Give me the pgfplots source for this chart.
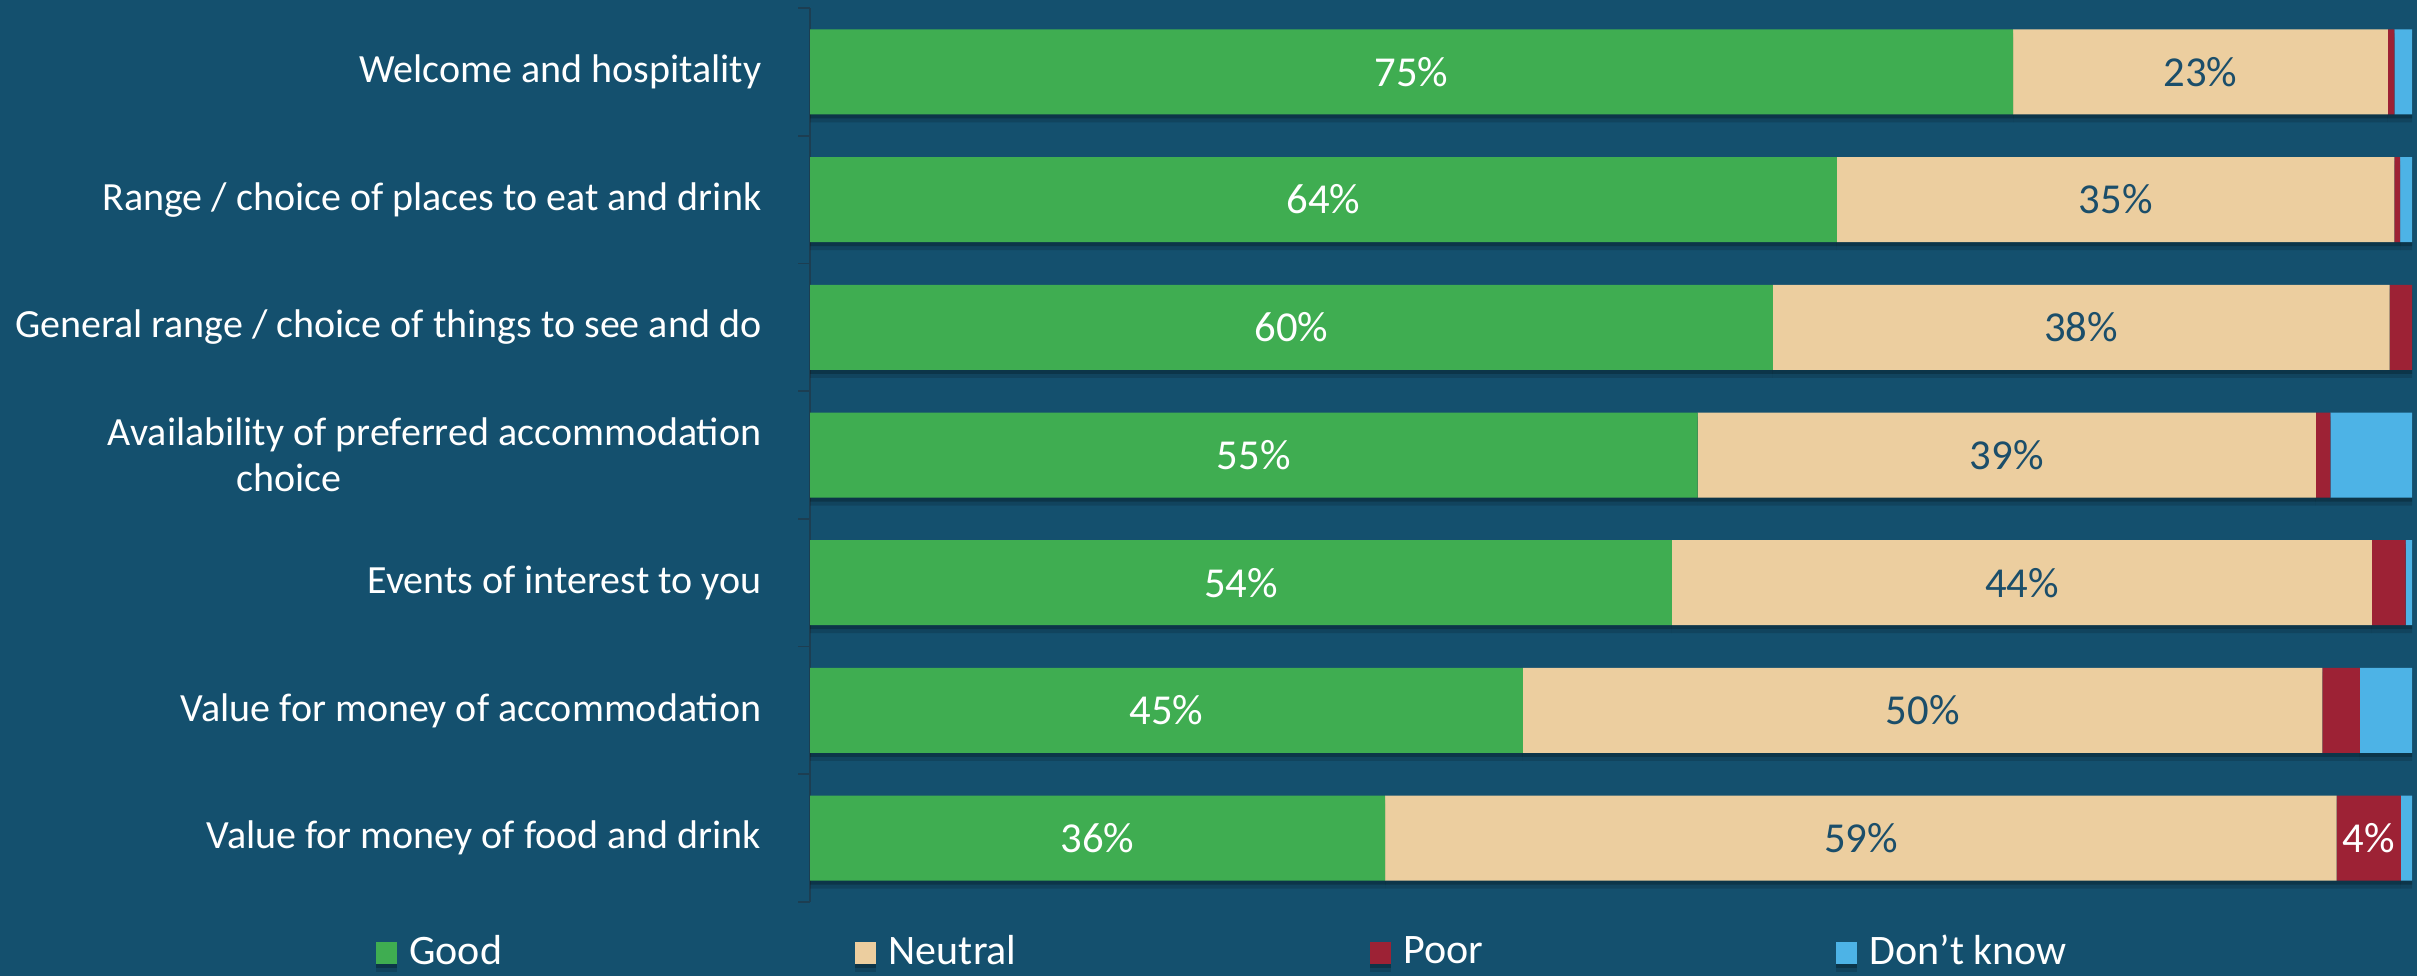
\documentclass[border=0pt]{standalone}
\usepackage{pgfplots}
\pgfplotsset{compat=1.18}
\usepackage{fontspec}
\setmainfont{Carlito}
\definecolor{bg}{HTML}{14506E}
\definecolor{axisc}{HTML}{1C3E52}
\definecolor{cgood}{HTML}{3FAD51}
\definecolor{cneutral}{HTML}{ECCE9F}
\definecolor{cpoor}{HTML}{9D2235}
\definecolor{cdk}{HTML}{4DB3E6}
\definecolor{labc}{HTML}{1B4E6A}
\newcommand{\ff}{\fontsize{12}{13.8}\selectfont}
\newcommand{\fl}{\fontsize{12.8}{14}\selectfont}
\newcommand{\fg}{\fontsize{12.6}{14}\selectfont}
\pgfplotsset{
  sq/.style={legend image code/.code={\fill[##1,draw=none] (0pt,-3.3pt) rectangle (6.3pt,3.3pt);}},
  shad/.style={preaction={fill=black, opacity=0.22, transform canvas={yshift=-1.2pt}},
               preaction={fill=black, opacity=0.14, transform canvas={yshift=-2.4pt}}},
  frame/.style={at={(243pt,22.2pt)}, anchor=south west, scale only axis,
    width=480.6pt, height=268.2pt, xmin=0, xmax=100, ymin=-0.5, ymax=6.5, y dir=reverse},
}
\begin{document}
\begin{tikzpicture}[x=1pt,y=1pt]
\fill[bg] (0,0) rectangle (725.1,292.8);
\begin{axis}[frame,
  xbar stacked, bar width=25.5pt,
  axis x line=none, axis y line*=left,
  axis line style={draw=axisc, line width=0.5pt},
  ytick={0,...,6},
  yticklabels={Welcome and hospitality,
    Range / choice of places to eat and drink,
    General range / choice of things to see and do,
    {Availability of preferred accommodation\\choice\hspace*{126pt}},
    Events of interest to you,
    Value for money of accommodation,
    Value for money of food and drink},
  major tick length=0pt,
  minor ytick={-0.5,0.5,...,6.5},
  minor tick length=3.6pt, tick align=outside,
  every tick/.style={draw=axisc, line width=0.5pt},
  yticklabel style={font=\ff, text=white, align=right, inner sep=0pt, xshift=-14.4pt},
  legend columns=4,
  legend style={at={(axis description cs:0,0)}, anchor=west, xshift=-130.5pt, yshift=-15.2pt,
    draw=none, fill=none, text=white, font=\fg, inner sep=0pt, nodes={inner sep=0pt},
    /tikz/every odd column/.append style={column sep=3.8pt},
    /tikz/every even column/.append style={column sep=105.9pt}},
]
\addplot[fill=cgood, draw=none, sq, shad] coordinates {(75.1,0) (64.1,1) (60.1,2) (55.4,3) (53.8,4) (44.5,5) (35.9,6)};
\addplot[fill=cneutral, draw=none, sq, shad] coordinates {(23.4,0) (34.8,1) (38.5,2) (38.6,3) (43.7,4) (49.9,5) (59.4,6)};
\addplot[fill=cpoor, draw=none, sq, shad] coordinates {(0.4,0) (0.35,1) (1.4,2) (0.9,3) (2.1,4) (2.35,5) (4.0,6)};
\addplot[fill=cdk, draw=none, sq, shad] coordinates {(1.1,0) (0.75,1) (0,2) (5.1,3) (0.4,4) (3.25,5) (0.7,6)};
\legend{Good, Neutral, Poor, Don’t know}
\end{axis}
\begin{axis}[frame, hide axis, clip=false]
\addplot[draw=none, mark=none, point meta=explicit,
  nodes near coords={\pgfmathprintnumber[fixed,precision=0,assume math mode=true]{\pgfplotspointmeta}\%},
  nodes near coords style={anchor=center, text=white, font=\fl}]
  table[x=x, y=y, meta=v] {
x y v
37.55 0 75
32.05 1 64
30.05 2 60
27.7 3 55
26.9 4 54
22.25 5 45
17.95 6 36
97.3 6 4
};
\addplot[draw=none, mark=none, point meta=explicit,
  nodes near coords={\pgfmathprintnumber[fixed,precision=0,assume math mode=true]{\pgfplotspointmeta}\%},
  nodes near coords style={anchor=center, text=labc, font=\fl}]
  table[x=x, y=y, meta=v] {
x y v
86.8 0 23
81.5 1 35
79.35 2 38
74.7 3 39
75.65 4 44
69.45 5 50
65.6 6 59
};
\end{axis}
\pgfresetboundingbox
\path[use as bounding box] (0,0) rectangle (725.1,292.8);
\end{tikzpicture}
\end{document}
